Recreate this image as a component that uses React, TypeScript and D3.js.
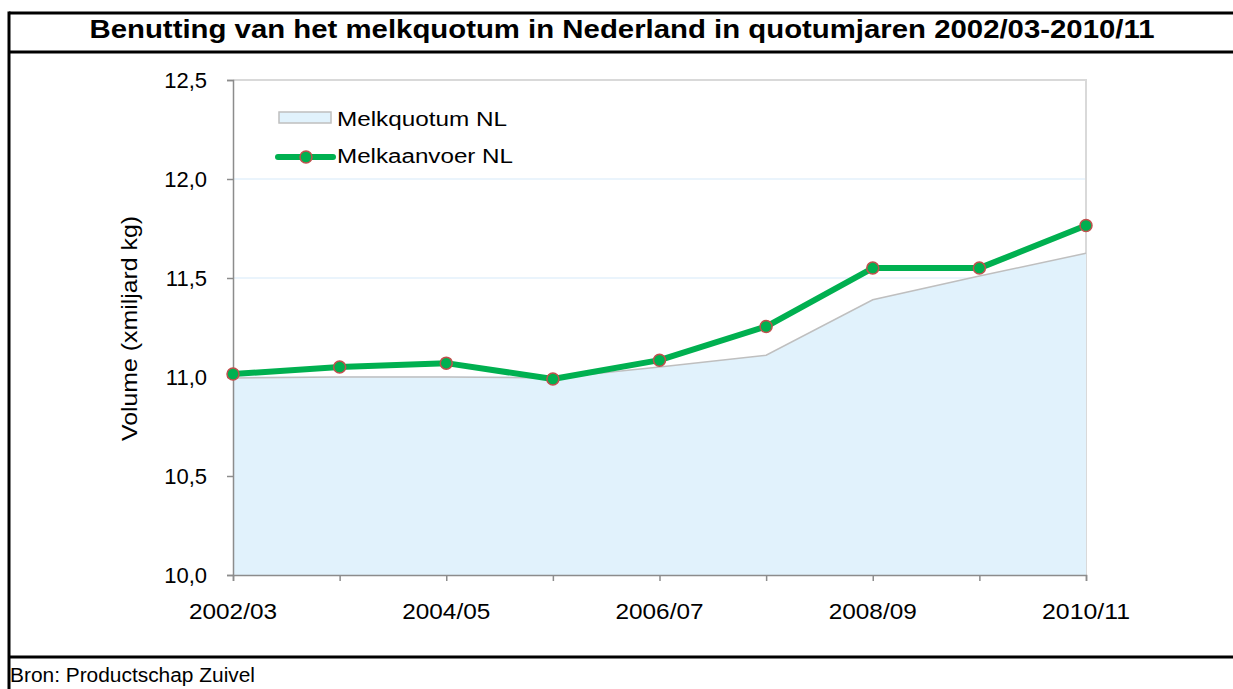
import React, { useEffect, useRef } from 'react';
import * as d3 from 'd3';

const years = ['2002/03', '2003/04', '2004/05', '2005/06', '2006/07', '2007/08', '2008/09', '2009/10', '2010/11'];
const quotum = [10.995, 11.0, 11.0, 10.995, 11.05, 11.11, 11.39, 11.51, 11.625];
const aanvoer = [11.015, 11.05, 11.07, 10.99, 11.085, 11.255, 11.55, 11.55, 11.765];
const yTicks = [10, 10.5, 11, 11.5, 12, 12.5];
const xLabels = ['2002/03', '2004/05', '2006/07', '2008/09', '2010/11'];

const App = () => {
  const ref = useRef<SVGSVGElement>(null);

  useEffect(() => {
    const svg = d3.select(ref.current);
    svg.selectAll('*').remove();
    const font = 'Liberation Sans, Arial, sans-serif';

    const left = 233, right = 1086, top = 80, bottom = 575;

    const x = d3.scalePoint<string>().domain(years).range([left, right]);
    const y = d3.scaleLinear().domain([10, 12.5]).range([bottom, top]);

    // frame
    [13, 52, 657].forEach(yy => {
      svg.append('line').attr('x1', 9).attr('x2', 1233).attr('y1', yy).attr('y2', yy)
        .attr('stroke', '#000').attr('stroke-width', 3);
    });
    svg.append('line').attr('x1', 9).attr('x2', 9).attr('y1', 11.5).attr('y2', 689)
      .attr('stroke', '#000').attr('stroke-width', 3);

    svg.append('text').attr('x', 622).attr('y', 38).attr('text-anchor', 'middle')
      .attr('font-family', font).attr('font-size', 25).attr('font-weight', 'bold')
      .attr('textLength', 1065).attr('lengthAdjust', 'spacingAndGlyphs')
      .text('Benutting van het melkquotum in Nederland in quotumjaren 2002/03-2010/11');

    svg.append('text').attr('x', 10).attr('y', 682)
      .attr('font-family', font).attr('font-size', 20)
      .attr('textLength', 245).attr('lengthAdjust', 'spacingAndGlyphs')
      .text('Bron: Productschap Zuivel');

    // gridlines
    svg.append('g').selectAll('line').data(yTicks.filter(d => d > 10 && d < 12.5)).join('line')
      .attr('x1', left).attr('x2', right).attr('y1', d => y(d)).attr('y2', d => y(d))
      .attr('stroke', '#e3f1fb').attr('stroke-width', 1.5);

    // plot border (top / right)
    svg.append('path').attr('d', `M${left},${top}H${right}V${bottom}`)
      .attr('fill', 'none').attr('stroke', '#d9d9d9').attr('stroke-width', 2);

    // area
    const area = d3.area<number>()
      .x((_, i) => x(years[i])!)
      .y0(y(10))
      .y1(d => y(d));
    svg.append('path').datum(quotum).attr('d', area)
      .attr('fill', '#e1f2fc');
    const qLine = d3.line<number>().x((_, i) => x(years[i])!).y(d => y(d));
    svg.append('path').datum(quotum).attr('d', qLine)
      .attr('fill', 'none').attr('stroke', '#bfbfbf').attr('stroke-width', 1.5);

    // axes
    const yAxis = svg.append('g').attr('transform', `translate(${left},0)`)
      .call(d3.axisLeft(y).tickValues(yTicks).tickSize(6).tickPadding(20)
        .tickFormat(d => d3.format('.1f')(d as number).replace('.', ',')));
    yAxis.select('.domain').attr('stroke', '#8c8c8c').attr('stroke-width', 1.5);
    yAxis.selectAll('.tick line').attr('stroke', '#8c8c8c').attr('stroke-width', 1.5);
    yAxis.selectAll('.tick text').attr('font-family', font).attr('font-size', 22).attr('fill', '#000');

    const xAxis = svg.append('g').attr('transform', `translate(0,${bottom})`)
      .call(d3.axisBottom(x).tickSize(6).tickFormat(() => ''));
    xAxis.select('.domain').attr('stroke', '#8c8c8c').attr('stroke-width', 1.5);
    xAxis.selectAll('.tick line').attr('stroke', '#8c8c8c').attr('stroke-width', 1.5);

    svg.append('g').selectAll('text').data(xLabels).join('text')
      .attr('x', d => x(d)! - 44).attr('y', bottom + 44)
      .attr('font-family', font).attr('font-size', 22)
      .attr('textLength', 88).attr('lengthAdjust', 'spacingAndGlyphs')
      .text(d => d);

    svg.append('text')
      .attr('transform', `translate(137,${(top + bottom) / 2 + 1}) rotate(-90)`)
      .attr('text-anchor', 'middle').attr('font-family', font).attr('font-size', 22)
      .attr('textLength', 225).attr('lengthAdjust', 'spacingAndGlyphs')
      .text('Volume (xmiljard kg)');

    // supply line
    const aLine = d3.line<number>().x((_, i) => x(years[i])!).y(d => y(d));
    svg.append('path').datum(aanvoer).attr('d', aLine)
      .attr('fill', 'none').attr('stroke', '#00b050').attr('stroke-width', 6)
      .attr('stroke-linejoin', 'round');
    svg.append('g').selectAll('circle').data(aanvoer).join('circle')
      .attr('cx', (_, i) => x(years[i])!).attr('cy', d => y(d)).attr('r', 6)
      .attr('fill', '#00b050').attr('stroke', '#c0504d').attr('stroke-width', 1.5);

    // legend
    const lg = svg.append('g');
    lg.append('rect').attr('x', 279).attr('y', 112).attr('width', 52).attr('height', 11)
      .attr('fill', '#e1f2fc').attr('stroke', '#bfbfbf').attr('stroke-width', 1.5);
    lg.append('text').attr('x', 337).attr('y', 126).attr('font-family', font).attr('font-size', 20)
      .attr('textLength', 170).attr('lengthAdjust', 'spacingAndGlyphs')
      .text('Melkquotum NL');
    lg.append('line').attr('x1', 278).attr('x2', 333).attr('y1', 157).attr('y2', 157)
      .attr('stroke', '#00b050').attr('stroke-width', 6).attr('stroke-linecap', 'round');
    lg.append('circle').attr('cx', 306).attr('cy', 157).attr('r', 6)
      .attr('fill', '#00b050').attr('stroke', '#c0504d').attr('stroke-width', 1.5);
    lg.append('text').attr('x', 337).attr('y', 163).attr('font-family', font).attr('font-size', 20)
      .attr('textLength', 176).attr('lengthAdjust', 'spacingAndGlyphs')
      .text('Melkaanvoer NL');
  }, []);

  return (
    <svg ref={ref} width={1233} height={689}
      style={{ position: 'absolute', left: 0, top: 0, background: '#fff' }} />
  );
};

export default App;
